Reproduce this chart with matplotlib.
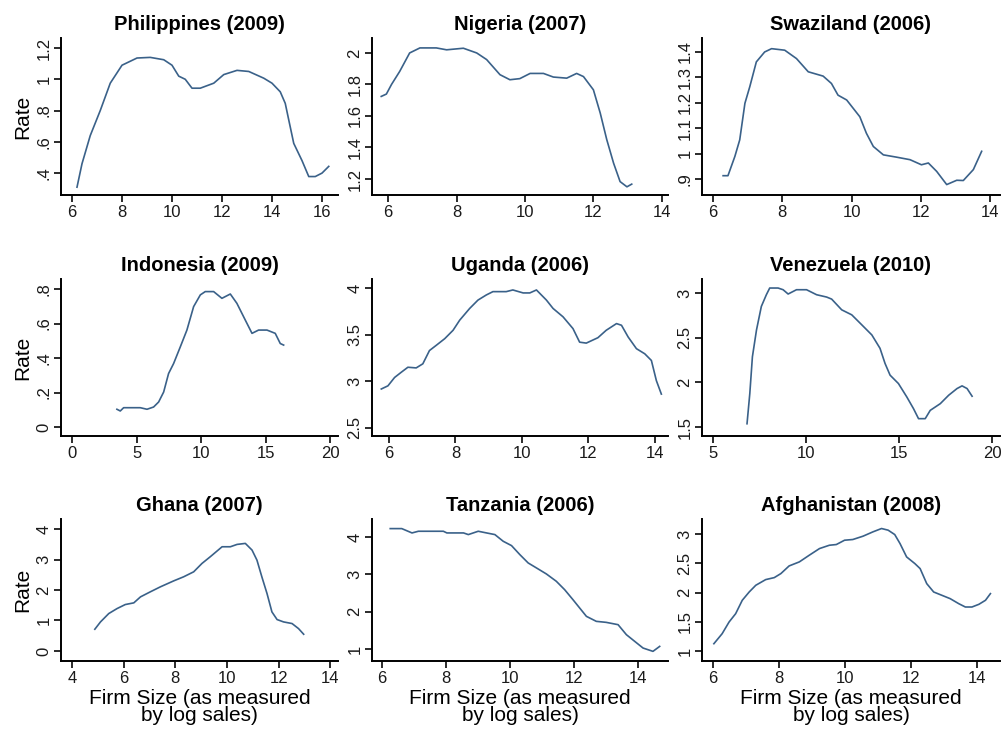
import matplotlib.pyplot as plt
from matplotlib.ticker import FuncFormatter

plt.rcParams["font.family"] = ["Liberation Sans", "DejaVu Sans"]

# Data (log sales, rate)
phil_x = [6.2, 6.4, 6.73, 7.13, 7.53, 8.0, 8.6, 9.13, 9.67, 10.0, 10.27, 10.53, 10.8, 11.13,
          11.67, 12.07, 12.6, 13.07, 13.67, 14.0, 14.33, 14.53, 14.67, 14.87, 15.2, 15.47,
          15.73, 16.0, 16.27]
phil_y = [0.31, 0.46, 0.64, 0.80, 0.975, 1.09, 1.136, 1.14, 1.125, 1.09, 1.02, 1.0, 0.943, 0.943,
          0.975, 1.03, 1.057, 1.05, 1.007, 0.975, 0.92, 0.846, 0.74, 0.59, 0.48, 0.378,
          0.378, 0.40, 0.443]

nig_x = [5.8, 5.95, 6.1, 6.34, 6.63, 6.93, 7.41, 7.71, 8.2, 8.59, 8.88, 9.27, 9.56, 9.85,
         10.15, 10.54, 10.83, 11.22, 11.51, 11.71, 12.0, 12.2, 12.39, 12.59, 12.78, 12.98, 13.12]
nig_y = [1.724, 1.739, 1.80, 1.883, 2.0, 2.032, 2.032, 2.02, 2.03, 2.0, 1.958, 1.862, 1.83, 1.837,
         1.87, 1.87, 1.847, 1.84, 1.87, 1.85, 1.766, 1.618, 1.45, 1.30, 1.183, 1.15, 1.167]

swz_x = [6.29, 6.43, 6.63, 6.77, 6.92, 7.06, 7.25, 7.49, 7.69, 8.07, 8.41, 8.75, 9.18, 9.42,
         9.61, 9.86, 10.24, 10.43, 10.63, 10.92, 11.3, 11.69, 12.02, 12.22, 12.46, 12.75,
         13.04, 13.23, 13.52, 13.76]
swz_y = [0.913, 0.913, 0.989, 1.054, 1.198, 1.263, 1.361, 1.40, 1.413, 1.407, 1.374, 1.322, 1.305,
         1.276, 1.23, 1.211, 1.145, 1.08, 1.028, 0.995, 0.986, 0.976, 0.956, 0.963, 0.93, 0.878,
         0.895, 0.894, 0.937, 1.009]

idn_x = [3.48, 3.74, 4.0, 4.77, 5.29, 5.81, 6.32, 6.71, 7.1, 7.48, 7.87, 8.39, 8.9, 9.42, 9.94,
         10.32, 10.97, 11.61, 12.26, 12.77, 13.42, 13.94, 14.45, 15.1, 15.74, 16.13, 16.39]
idn_y = [0.103, 0.093, 0.112, 0.112, 0.112, 0.103, 0.116, 0.145, 0.203, 0.31, 0.368, 0.465, 0.562,
         0.698, 0.766, 0.785, 0.785, 0.746, 0.771, 0.717, 0.62, 0.543, 0.562, 0.562, 0.543,
         0.484, 0.475]

uga_x = [5.77, 5.97, 6.17, 6.37, 6.57, 6.82, 7.02, 7.22, 7.42, 7.68, 7.93, 8.13, 8.43, 8.68,
         8.93, 9.13, 9.53, 9.73, 10.04, 10.24, 10.44, 10.74, 10.94, 11.24, 11.54, 11.74, 11.94,
         12.29, 12.54, 12.85, 13.0, 13.2, 13.45, 13.7, 13.9, 14.05, 14.2]
uga_y = [2.916, 2.95, 3.04, 3.096, 3.15, 3.143, 3.187, 3.33, 3.385, 3.458, 3.548, 3.657, 3.783,
         3.873, 3.928, 3.964, 3.964, 3.982, 3.95, 3.95, 3.982, 3.873, 3.783, 3.693, 3.566, 3.42,
         3.41, 3.468, 3.548, 3.62, 3.602, 3.476, 3.35, 3.295, 3.223, 3.006, 2.861]

ven_x = [6.83, 6.98, 7.12, 7.34, 7.6, 7.87, 8.05, 8.5, 8.77, 9.04, 9.49, 10.03, 10.57, 11.11,
         11.38, 11.92, 12.46, 13.0, 13.54, 13.98, 14.25, 14.52, 14.97, 15.42, 15.78, 16.05,
         16.41, 16.68, 17.22, 17.67, 18.12, 18.39, 18.66, 18.93]
ven_y = [1.537, 1.875, 2.287, 2.587, 2.85, 2.981, 3.056, 3.056, 3.037, 2.989, 3.037, 3.037, 2.981,
         2.955, 2.932, 2.812, 2.756, 2.644, 2.531, 2.381, 2.212, 2.081, 1.987, 1.837, 1.706,
         1.594, 1.594, 1.687, 1.762, 1.856, 1.931, 1.961, 1.931, 1.845]

gha_x = [4.88, 5.1, 5.42, 5.74, 6.06, 6.39, 6.65, 7.03, 7.42, 7.94, 8.32, 8.71, 9.03, 9.35, 9.81,
         10.13, 10.39, 10.71, 10.97, 11.16, 11.35, 11.55, 11.74, 11.94, 12.19, 12.52, 12.77, 12.97]
gha_y = [0.712, 0.953, 1.227, 1.39, 1.523, 1.578, 1.775, 1.94, 2.104, 2.301, 2.433, 2.597, 2.871,
         3.09, 3.419, 3.419, 3.496, 3.529, 3.31, 2.981, 2.433, 1.885, 1.282, 1.03, 0.953, 0.899,
         0.734, 0.548]

tza_x = [6.26, 6.62, 6.94, 7.14, 7.51, 7.92, 8.03, 8.55, 8.7, 9.01, 9.27, 9.53, 9.79, 10.05,
         10.31, 10.57, 10.83, 11.14, 11.45, 11.71, 11.97, 12.18, 12.39, 12.7, 13.01, 13.38, 13.64,
         13.9, 14.16, 14.47, 14.68]
tza_y = [4.223, 4.223, 4.107, 4.152, 4.152, 4.152, 4.107, 4.107, 4.063, 4.152, 4.107, 4.063, 3.884,
         3.768, 3.527, 3.304, 3.17, 3.009, 2.813, 2.589, 2.321, 2.098, 1.875, 1.741, 1.714, 1.652,
         1.384, 1.205, 1.027, 0.938, 1.071]

afg_x = [6.03, 6.28, 6.49, 6.69, 6.89, 7.1, 7.3, 7.6, 7.86, 8.06, 8.31, 8.62, 8.92, 9.23, 9.53,
         9.74, 9.99, 10.24, 10.55, 10.85, 11.11, 11.31, 11.51, 11.67, 11.87, 12.12, 12.28, 12.48,
         12.69, 12.94, 13.19, 13.45, 13.65, 13.85, 14.06, 14.26, 14.41]
afg_y = [1.126, 1.297, 1.497, 1.64, 1.869, 2.011, 2.126, 2.223, 2.257, 2.326, 2.457, 2.526, 2.64,
         2.754, 2.811, 2.823, 2.897, 2.909, 2.966, 3.04, 3.097, 3.069, 2.994, 2.84, 2.611, 2.497,
         2.411, 2.154, 2.011, 1.954, 1.897, 1.811, 1.754, 1.754, 1.8, 1.869, 1.983]

titles = ["Philippines (2009)", "Nigeria (2007)", "Swaziland (2006)",
          "Indonesia (2009)", "Uganda (2006)", "Venezuela (2010)",
          "Ghana (2007)", "Tanzania (2006)", "Afghanistan (2008)"]

series = [(phil_x, phil_y), (nig_x, nig_y), (swz_x, swz_y),
          (idn_x, idn_y), (uga_x, uga_y), (ven_x, ven_y),
          (gha_x, gha_y), (tza_x, tza_y), (afg_x, afg_y)]

x_ticks = [
    [6, 8, 10, 12, 14, 16], [6, 8, 10, 12, 14], [6, 8, 10, 12, 14],
    [0, 5, 10, 15, 20], [6, 8, 10, 12, 14], [5, 10, 15, 20],
    [4, 6, 8, 10, 12, 14], [6, 8, 10, 12, 14], [6, 8, 10, 12, 14],
]
y_ticks = [
    [0.4, 0.6, 0.8, 1.0, 1.2], [1.2, 1.4, 1.6, 1.8, 2.0], [0.9, 1.0, 1.1, 1.2, 1.3, 1.4],
    [0.0, 0.2, 0.4, 0.6, 0.8], [2.5, 3.0, 3.5, 4.0], [1.5, 2.0, 2.5, 3.0],
    [0, 1, 2, 3, 4], [1, 2, 3, 4], [1.0, 1.5, 2.0, 2.5, 3.0],
]

# axis limits (layout only)
x_lims = [(5.56, 16.64), (5.53, 14.18), (5.68, 14.29),
          (-0.85, 20.6), (5.49, 14.4), (4.41, 20.43),
          (3.57, 14.3), (5.69, 14.94), (5.67, 14.7)]
y_lims = [(0.26, 1.264), (1.098, 2.095), (0.837, 1.455),
          (-0.052, 0.858), (2.41, 4.1), (1.40, 3.157),
          (-0.33, 4.33), (0.68, 4.48), (0.83, 3.26)]

# axes boxes in pixels: left, right, top, bottom
col_px = [(61, 338), (372, 668), (702, 1000)]
row_px = [(38, 195), (279, 436), (519, 661)]

W, H = 1003, 731
line_color = "#3a6189"


def stata_fmt(v, pos):
    s = "%g" % round(v, 3)
    if s.startswith("0."):
        s = s[1:]
    return s


fig = plt.figure(figsize=(W / 100, H / 100), dpi=100)

for i in range(9):
    r, c = divmod(i, 3)
    l, rr = col_px[c]
    t, b = row_px[r]
    ax = fig.add_axes([l / W, 1 - b / H, (rr - l) / W, (b - t) / H])

    x, y = series[i]
    ax.plot(x, y, color=line_color, linewidth=1.2)

    ax.set_xlim(*x_lims[i])
    ax.set_ylim(*y_lims[i])
    ax.set_xticks(x_ticks[i])
    ax.set_yticks(y_ticks[i])
    ax.yaxis.set_major_formatter(FuncFormatter(stata_fmt))
    ax.xaxis.set_major_formatter(FuncFormatter(stata_fmt))
    for lab in ax.get_yticklabels():
        lab.set_rotation(90)
        lab.set_va("center")

    ax.spines["top"].set_visible(False)
    ax.spines["right"].set_visible(False)
    ax.spines["left"].set_linewidth(1.4)
    ax.spines["bottom"].set_linewidth(1.4)
    ax.tick_params(length=5, width=1.3, labelsize=12, colors="#1a1a1a", pad=2)

    ax.set_title(titles[i], fontsize=14.5, fontweight="bold", pad=6)

    if c == 0:
        ax.set_ylabel("Rate", fontsize=15, labelpad=3)
    if r == 2:
        ax.set_xlabel("Firm Size (as measured\nby log sales)", fontsize=15,
                      labelpad=2, linespacing=0.92)

plt.savefig("out.png", dpi=100)
plt.close()
